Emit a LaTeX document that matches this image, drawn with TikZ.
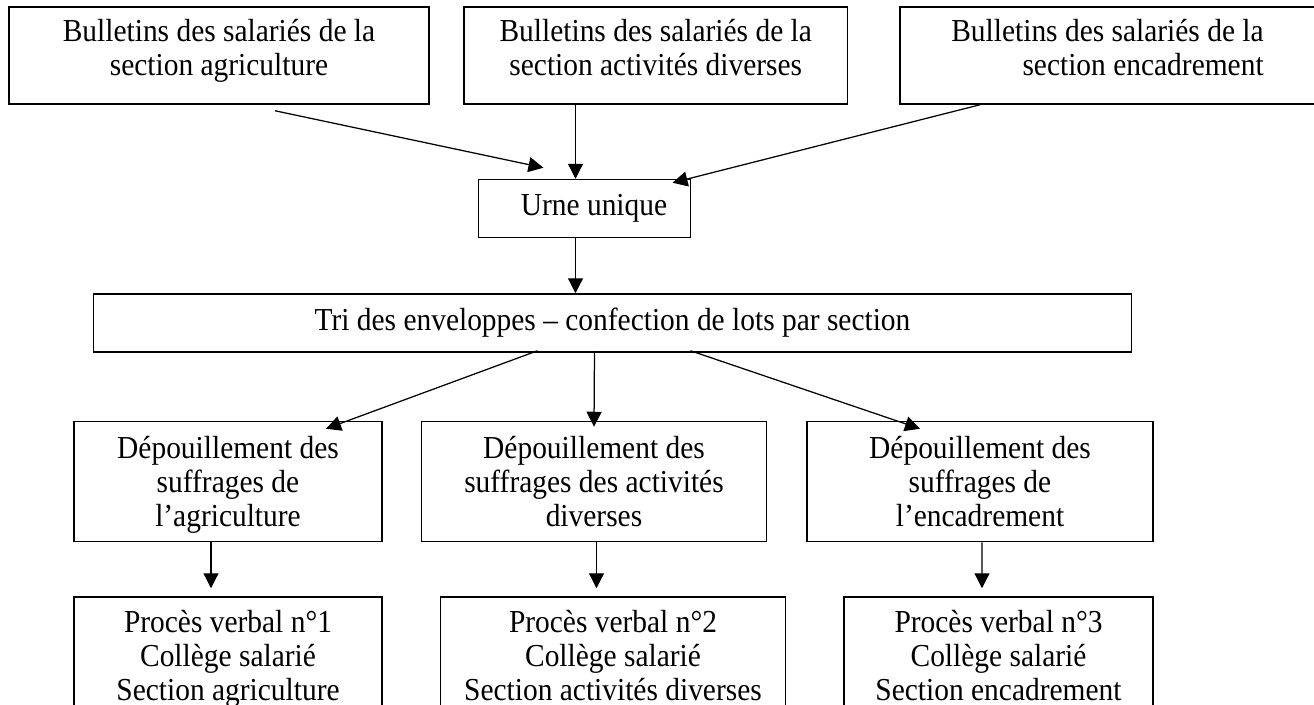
\documentclass[tikz,border=0pt]{standalone}
\usepackage{fontspec}
\setmainfont{Liberation Serif}[FakeStretch=0.92]
\usetikzlibrary{positioning,arrows.meta}

\begin{document}
\begin{tikzpicture}[->,>={Triangle[length=6pt,width=6pt]},line width=0.5pt,
  box node/.style={rectangle,draw,line width=0.6pt,inner sep=0pt,align=center,
    minimum height=38.8pt,text depth=3pt,font=\fontsize{12.8}{13.6}\selectfont}]
  \clip (0,0) rectangle (525.6pt,-281.6pt);

  % bulletins par section
  \node[box node,minimum width=168pt,text depth=6.8pt] (bulA) at (87.6pt,-22.2pt)
    {Bulletins des salariés de la\\section agriculture};
  \node[box node,minimum width=153.4pt,text depth=6.8pt] (bulB) [right=13.4pt of bulA]
    {Bulletins des salariés de la\\section activités diverses};
  \node[box node,minimum width=166pt,text depth=6.8pt,align=right] (bulC) [right=20.4pt of bulB]
    {Bulletins des salariés de la\\section encadrement};

  \node[box node,minimum width=84.8pt,minimum height=23.2pt] (urne)
    [below=29.6pt of bulB,xshift=-28.5pt] {\hspace*{7.6pt}Urne unique};
  \node[box node,minimum width=415.2pt,minimum height=23.2pt] (tri)
    [below=22pt of urne,xshift=11.2pt]
    {Tri des enveloppes – confection de lots par section};

  % depouillement
  \node[box node,minimum width=138pt,minimum height=48pt,text depth=0pt] (dep2)
    [below=27.2pt of tri,xshift=-7.4pt]
    {Dépouillement des\\suffrages des activités\\diverses};
  \node[box node,minimum width=123.2pt,minimum height=48pt,text depth=0pt] (dep1)
    [left=15.2pt of dep2] {Dépouillement des\\suffrages de\\l’agriculture};
  \node[box node,minimum width=138.4pt,minimum height=48pt,text depth=0pt] (dep3)
    [right=15.6pt of dep2] {Dépouillement des\\suffrages de\\l’encadrement};

  % proces verbaux
  \node[box node,minimum width=123.2pt,minimum height=49.6pt] (pv1)
    [below=21.6pt of dep1]
    {Procès verbal n°1\\Collège salarié\\Section agriculture};
  \node[box node,minimum width=138pt,minimum height=49.6pt] (pv2)
    [below=21.6pt of dep2,xshift=7.6pt]
    {Procès verbal n°2\\Collège salarié\\Section activités diverses};
  \node[box node,minimum width=123.6pt,minimum height=49.6pt] (pv3)
    [below=21.6pt of dep3,xshift=7.4pt]
    {Procès verbal n°3\\Collège salarié\\Section encadrement};

  \path
    ([xshift=22.4pt,yshift=-2.4pt]bulA.south) edge ([xshift=-16.4pt,yshift=4.4pt]urne.north)
    ([xshift=-32.1pt]bulB.south) edge ([xshift=-3.6pt]urne.north)
    ([xshift=-51pt]bulC.south) edge ([xshift=35.2pt,yshift=-1.6pt]urne.north)
    ([xshift=-3.6pt]urne.south) edge ([xshift=-14.8pt]tri.north)
    ([xshift=-30pt,yshift=0.8pt]tri.south) edge ([xshift=39.2pt,yshift=-3.2pt]dep1.north)
    ([xshift=-7.2pt,yshift=0.8pt]tri.south) edge ([yshift=-2.4pt]dep2.north)
    ([xshift=31.2pt,yshift=0.8pt]tri.south) edge ([xshift=-24pt,yshift=-3.2pt]dep3.north)
    ([xshift=-6.8pt]dep1.south) edge ([xshift=-6.8pt,yshift=3.2pt]pv1.north)
    ([xshift=1pt]dep2.south) edge ([xshift=-6.6pt,yshift=3.2pt]pv2.north)
    ([xshift=0.8pt]dep3.south) edge ([xshift=-6.6pt,yshift=3.2pt]pv3.north);
\end{tikzpicture}
\end{document}
